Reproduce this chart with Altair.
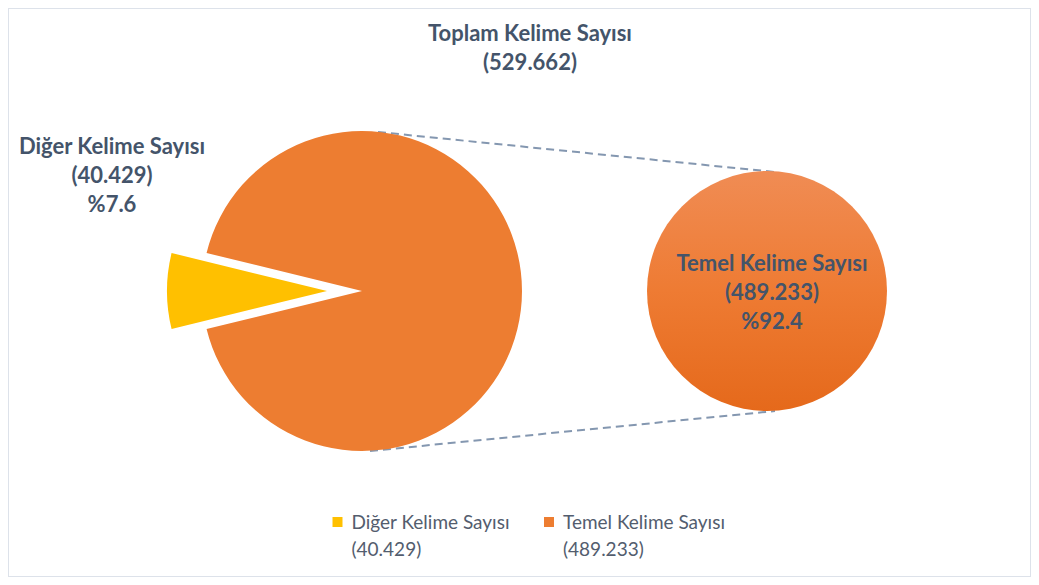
import math
import altair as alt
import pandas as pd

# ---- data ----
categories = ["Diğer Kelime Sayısı", "Temel Kelime Sayısı"]
values = [40429, 489233]
percents = [7.6, 92.4]
total_label = "Toplam Kelime Sayısı"
total_value = 529662


def tr(n):
    return f"{n:,}".replace(",", ".")


df = pd.DataFrame({
    "category": categories,
    "value": values,
    "idx": [0, 1],
    "lines": [[c, f"({tr(v)})", f"%{p}"] for c, v, p in zip(categories, values, percents)],
    "legend": [[c, f"({tr(v)})"] for c, v in zip(categories, values)],
})
title_df = pd.DataFrame({"lines": [[total_label, f"({tr(total_value)})"]]})

# ---- style / layout ----
YELLOW = "#FFC000"
ORANGE = "#ED7D31"
TEXT = "#44546A"
LEG_TEXT = "#535D6E"
FONT = "Lato"
W, H = 1023, 569
CX1, CY, R1, EXPLODE = 354, 283, 160, 35
CX2, R2 = 759, 120
LEG_X0, LEG_STEP, LEG_Y = 329.5, 211.5, 515

frac0 = values[0] / sum(values)
start = 1.5 * math.pi - frac0 * math.pi
theta_scale = alt.Scale(range=[start, start + 2 * math.pi])
color_scale = alt.Scale(domain=categories, range=[YELLOW, ORANGE])

base = alt.Chart(df)


def pie(cx, keep):
    return base.mark_arc(radius=R1).encode(
        theta=alt.Theta("value:Q", stack=True, scale=theta_scale),
        color=alt.Color("category:N", scale=color_scale, legend=None),
        order=alt.Order("idx:Q"),
        opacity=alt.condition(alt.datum.idx == keep, alt.value(1), alt.value(0)),
        x=alt.value(cx),
        y=alt.value(CY),
    )


pie_main = pie(CX1, 1)
pie_expl = pie(CX1 - EXPLODE, 0)

grad = alt.Gradient(
    gradient="linear", x1=0, y1=0, x2=0, y2=1,
    stops=[alt.GradientStop(color="#F08C54", offset=0),
           alt.GradientStop(color="#EE7B33", offset=0.5),
           alt.GradientStop(color="#E5691B", offset=1)],
)
pie_zoom = base.transform_filter(alt.datum.idx == 1).mark_arc(radius=R2, fill=grad).encode(
    theta=alt.Theta("value:Q", stack=True, scale=alt.Scale(range=[0, 2 * math.pi])),
    x=alt.value(CX2),
    y=alt.value(CY),
)

dash = dict(color="#8497B0", strokeWidth=2, strokeDash=[8, 5])
line_top = base.transform_filter(alt.datum.idx == 1).mark_rule(**dash).encode(
    x=alt.value(CX1 + 16), y=alt.value(CY - 159), x2=alt.value(CX2 + 8), y2=alt.value(CY - 119))
line_bot = base.transform_filter(alt.datum.idx == 1).mark_rule(**dash).encode(
    x=alt.value(CX1 + 8), y=alt.value(CY + 160), x2=alt.value(CX2 + 8), y2=alt.value(CY + 120))

txt = dict(font=FONT, fontSize=22, fontWeight="bold", color=TEXT, lineHeight=29,
           align="center", baseline="middle")
lab_left = base.transform_filter(alt.datum.idx == 0).mark_text(**txt).encode(
    text="lines:N", x=alt.value(104), y=alt.value(139))
lab_right = base.transform_filter(alt.datum.idx == 1).mark_text(**txt, ).encode(
    text="lines:N", x=alt.value(764), y=alt.value(256))
title = alt.Chart(title_df).mark_text(**txt).encode(
    text="lines:N", x=alt.value(522), y=alt.value(26))

# ---- legend (drawn with the same colour scale) ----
leg_x = alt.X("idx:Q", axis=None,
              scale=alt.Scale(domain=[0, 1], range=[LEG_X0, LEG_X0 + LEG_STEP]))
leg_sym = base.mark_square(size=100, opacity=1).encode(
    x=leg_x, y=alt.value(LEG_Y - 1),
    color=alt.Color("category:N", scale=color_scale, legend=None),
)
leg_txt = base.mark_text(font=FONT, fontSize=19, color=LEG_TEXT, lineHeight=27,
                         align="left", baseline="middle", dx=14).encode(
    x=leg_x, y=alt.value(LEG_Y), text="legend:N",
)

chart = alt.layer(
    line_top, line_bot, pie_main, pie_expl, pie_zoom, lab_left, lab_right, title,
    leg_sym, leg_txt,
).resolve_scale(theta="independent").properties(
    width=W, height=H, padding=0,
    autosize=alt.AutoSizeParams(type="fit", contains="padding"),
).configure_view(stroke="#DDE2EA", strokeWidth=2)

chart.save("out.html", embed_options={"renderer": "svg", "actions": False})
